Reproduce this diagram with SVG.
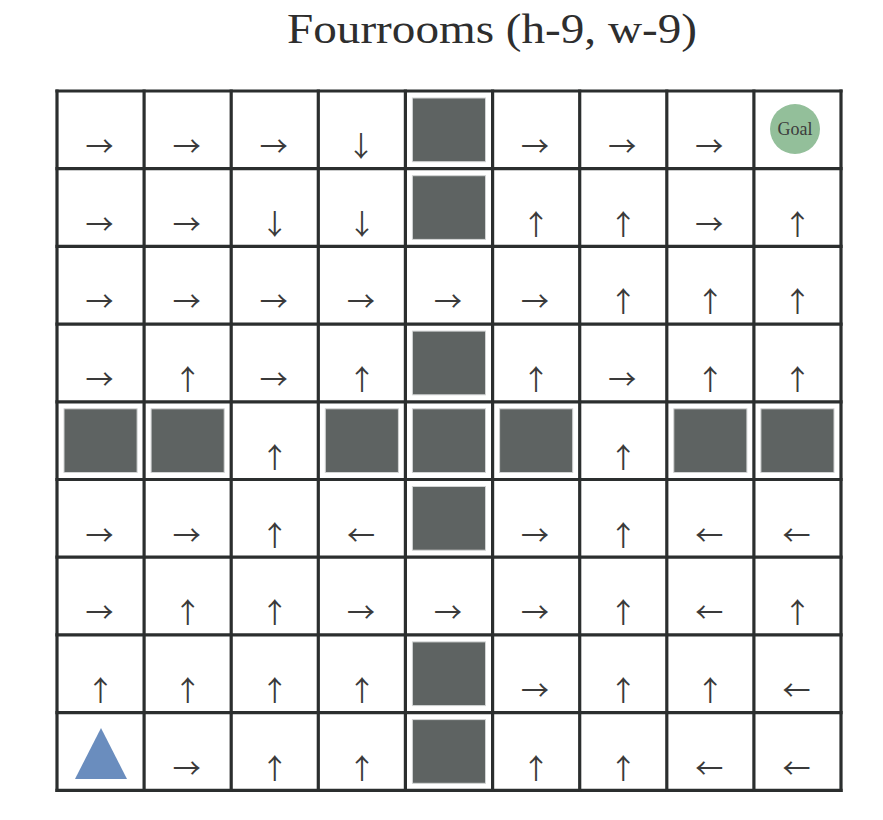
<svg xmlns="http://www.w3.org/2000/svg" width="883" height="820" viewBox="0 0 883 820">
<style>
.bg{fill:#ffffff}
.grid line{stroke:#2b2e2e;stroke-width:3.2;stroke-linecap:square}
.wall{fill:#5e6362;stroke:#d2d4d4;stroke-width:1}
.ar{font-family:"Noto Sans CJK SC","DejaVu Sans",sans-serif;font-size:28px;fill:#3a3a3a;text-anchor:middle;dominant-baseline:central}
.title{font-family:"Liberation Serif","DejaVu Serif",serif;font-size:43px;fill:#2e2e2e;text-anchor:middle}
.goal{fill:#93bf9a}
.goaltxt{font-family:"Liberation Serif","DejaVu Serif",serif;font-size:18px;fill:#3c3c3c;text-anchor:middle;dominant-baseline:central}
.agent{fill:#6a8dbe}
</style>
<rect class="bg" x="0" y="0" width="883" height="820"/>
<text class="title" x="492" y="43" textLength="410" lengthAdjust="spacingAndGlyphs">Fourrooms (h-9, w-9)</text>

<g id="walls">
<rect id="w-0-4" class="wall" x="412.4" y="98" width="73.1" height="63.7"/>
<rect id="w-1-4" class="wall" x="412.4" y="175.7" width="73.1" height="63.7"/>
<rect id="w-3-4" class="wall" x="412.4" y="331.1" width="73.1" height="63.7"/>
<rect id="w-4-0" class="wall" x="64" y="408.8" width="73.1" height="63.7"/>
<rect id="w-4-1" class="wall" x="151.1" y="408.8" width="73.1" height="63.7"/>
<rect id="w-4-3" class="wall" x="325.3" y="408.8" width="73.1" height="63.7"/>
<rect id="w-4-4" class="wall" x="412.4" y="408.8" width="73.1" height="63.7"/>
<rect id="w-4-5" class="wall" x="499.6" y="408.8" width="73.1" height="63.7"/>
<rect id="w-4-7" class="wall" x="673.8" y="408.8" width="73.1" height="63.7"/>
<rect id="w-4-8" class="wall" x="760.9" y="408.8" width="73.1" height="63.7"/>
<rect id="w-5-4" class="wall" x="412.4" y="486.5" width="73.1" height="63.7"/>
<rect id="w-7-4" class="wall" x="412.4" y="641.9" width="73.1" height="63.7"/>
<rect id="w-8-4" class="wall" x="412.4" y="719.6" width="73.1" height="63.7"/>
</g>

<g id="grid" class="grid">
<line x1="57" y1="91" x2="841" y2="91"/>
<line x1="57" y1="168.7" x2="841" y2="168.7"/>
<line x1="57" y1="246.4" x2="841" y2="246.4"/>
<line x1="57" y1="324.1" x2="841" y2="324.1"/>
<line x1="57" y1="401.8" x2="841" y2="401.8"/>
<line x1="57" y1="479.5" x2="841" y2="479.5"/>
<line x1="57" y1="557.2" x2="841" y2="557.2"/>
<line x1="57" y1="634.9" x2="841" y2="634.9"/>
<line x1="57" y1="712.6" x2="841" y2="712.6"/>
<line x1="57" y1="790.3" x2="841" y2="790.3"/>
<line x1="57" y1="91" x2="57" y2="790.3"/>
<line x1="144.1" y1="91" x2="144.1" y2="790.3"/>
<line x1="231.2" y1="91" x2="231.2" y2="790.3"/>
<line x1="318.3" y1="91" x2="318.3" y2="790.3"/>
<line x1="405.4" y1="91" x2="405.4" y2="790.3"/>
<line x1="492.6" y1="91" x2="492.6" y2="790.3"/>
<line x1="579.7" y1="91" x2="579.7" y2="790.3"/>
<line x1="666.8" y1="91" x2="666.8" y2="790.3"/>
<line x1="753.9" y1="91" x2="753.9" y2="790.3"/>
<line x1="841" y1="91" x2="841" y2="790.3"/>
</g>

<g id="goal">
<circle class="goal" cx="795" cy="129" r="25"/>
<text class="goaltxt" x="795" y="129">Goal</text>
</g>

<g id="agent">
<polygon class="agent" points="101,728 75,779 127,779"/>
</g>

<g id="row0">
<text class="ar" x="99.5" y="145">→</text>
<text class="ar" x="186.7" y="145">→</text>
<text class="ar" x="273.8" y="145">→</text>
<text class="ar" x="361" y="145">↓</text>
<text class="ar" x="535.1" y="145">→</text>
<text class="ar" x="622.2" y="145">→</text>
<text class="ar" x="709.3" y="145">→</text>
</g>
<g id="row1">
<text class="ar" x="99.5" y="222.7">→</text>
<text class="ar" x="186.7" y="222.7">→</text>
<text class="ar" x="274.8" y="222.7">↓</text>
<text class="ar" x="361.9" y="222.7">↓</text>
<text class="ar" x="536.1" y="222.7">↑</text>
<text class="ar" x="623.2" y="222.7">↑</text>
<text class="ar" x="709.3" y="222.7">→</text>
<text class="ar" x="797.4" y="222.7">↑</text>
</g>
<g id="row2">
<text class="ar" x="99.5" y="300.4">→</text>
<text class="ar" x="186.7" y="300.4">→</text>
<text class="ar" x="273.8" y="300.4">→</text>
<text class="ar" x="360.9" y="300.4">→</text>
<text class="ar" x="448" y="300.4">→</text>
<text class="ar" x="535.1" y="300.4">→</text>
<text class="ar" x="623.2" y="300.4">↑</text>
<text class="ar" x="710.3" y="300.4">↑</text>
<text class="ar" x="797.4" y="300.4">↑</text>
</g>
<g id="row3">
<text class="ar" x="99.5" y="378.1">→</text>
<text class="ar" x="187.7" y="378.1">↑</text>
<text class="ar" x="273.8" y="378.1">→</text>
<text class="ar" x="361.9" y="378.1">↑</text>
<text class="ar" x="536.1" y="378.1">↑</text>
<text class="ar" x="622.2" y="378.1">→</text>
<text class="ar" x="710.3" y="378.1">↑</text>
<text class="ar" x="797.4" y="378.1">↑</text>
</g>
<g id="row4">
<text class="ar" x="274.8" y="455.8">↑</text>
<text class="ar" x="623.2" y="455.8">↑</text>
</g>
<g id="row5">
<text class="ar" x="99.5" y="533.5">→</text>
<text class="ar" x="186.7" y="533.5">→</text>
<text class="ar" x="274.8" y="533.5">↑</text>
<text class="ar" x="360.9" y="533.5">←</text>
<text class="ar" x="535.1" y="533.5">→</text>
<text class="ar" x="623.2" y="533.5">↑</text>
<text class="ar" x="709.3" y="533.5">←</text>
<text class="ar" x="796.4" y="533.5">←</text>
</g>
<g id="row6">
<text class="ar" x="99.5" y="611.2">→</text>
<text class="ar" x="187.7" y="611.2">↑</text>
<text class="ar" x="274.8" y="611.2">↑</text>
<text class="ar" x="360.9" y="611.2">→</text>
<text class="ar" x="448" y="611.2">→</text>
<text class="ar" x="535.1" y="611.2">→</text>
<text class="ar" x="623.2" y="611.2">↑</text>
<text class="ar" x="709.3" y="611.2">←</text>
<text class="ar" x="797.4" y="611.2">↑</text>
</g>
<g id="row7">
<text class="ar" x="100.6" y="688.9">↑</text>
<text class="ar" x="187.7" y="688.9">↑</text>
<text class="ar" x="274.8" y="688.9">↑</text>
<text class="ar" x="361.9" y="688.9">↑</text>
<text class="ar" x="535.1" y="688.9">→</text>
<text class="ar" x="623.2" y="688.9">↑</text>
<text class="ar" x="710.3" y="688.9">↑</text>
<text class="ar" x="796.4" y="688.9">←</text>
</g>
<g id="row8">
<text class="ar" x="186.7" y="766.6">→</text>
<text class="ar" x="274.8" y="766.6">↑</text>
<text class="ar" x="361.9" y="766.6">↑</text>
<text class="ar" x="536.1" y="766.6">↑</text>
<text class="ar" x="623.2" y="766.6">↑</text>
<text class="ar" x="709.3" y="766.6">←</text>
<text class="ar" x="796.4" y="766.6">←</text>
</g>
</svg>
